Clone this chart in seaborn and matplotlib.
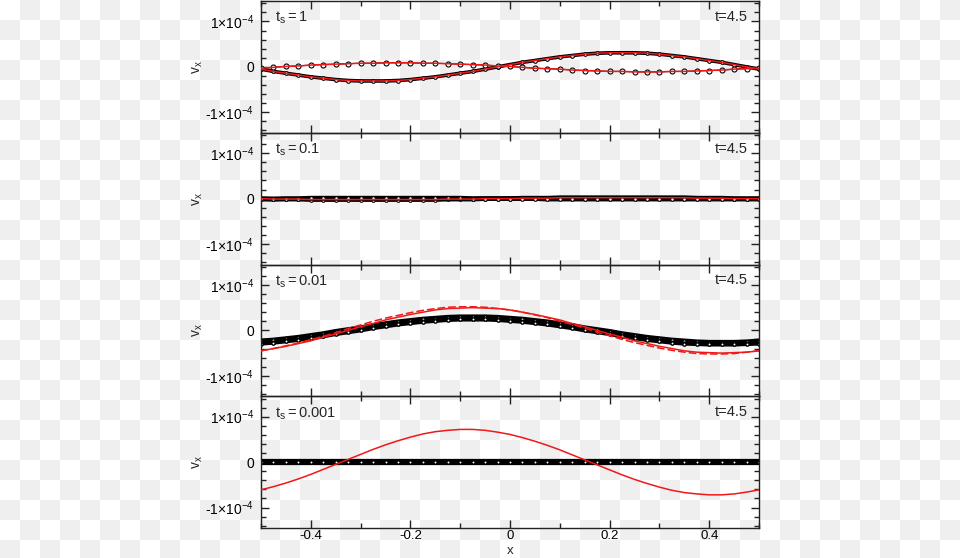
import numpy as np
import matplotlib
matplotlib.use("Agg")
import matplotlib.pyplot as plt
from matplotlib.ticker import MultipleLocator, FixedLocator
import seaborn as sns

# sample positions along x (41 cells)
x = np.linspace(-0.5, 0.5, 41)
SCALE = 1e-4  # all values below are in units of 1e-4

# panel 1, t_s = 1 : two eigen-branches, points and red curves coincide
p1_a = [-0.05, -0.10, -0.14, -0.18, -0.22, -0.25, -0.28, -0.30, -0.31, -0.31, -0.31,
        -0.30, -0.28, -0.25, -0.22, -0.18, -0.14, -0.10, -0.05, 0.00, 0.05,
        0.10, 0.14, 0.18, 0.22, 0.25, 0.28, 0.30, 0.31, 0.31, 0.31,
        0.30, 0.28, 0.25, 0.22, 0.18, 0.14, 0.10, 0.05, 0.00, -0.05]
p1_b = [-0.03, -0.01, 0.01, 0.02, 0.04, 0.05, 0.06, 0.07, 0.08, 0.08, 0.09,
        0.09, 0.09, 0.08, 0.08, 0.07, 0.06, 0.05, 0.04, 0.02, 0.01,
        -0.01, -0.03, -0.04, -0.05, -0.07, -0.08, -0.09, -0.10, -0.10, -0.11,
        -0.11, -0.11, -0.10, -0.10, -0.09, -0.08, -0.07, -0.05, -0.04, -0.03]

# panel 2, t_s = 0.1 : almost flat
p2_a = [0.00, -0.01, -0.01, -0.01, -0.02, -0.02, -0.02, -0.02, -0.02, -0.02, -0.02,
        -0.02, -0.02, -0.02, -0.02, -0.01, -0.01, -0.01, 0.00, 0.00, 0.00,
        0.01, 0.01, 0.01, 0.02, 0.02, 0.02, 0.02, 0.02, 0.02, 0.02,
        0.02, 0.02, 0.02, 0.02, 0.01, 0.01, 0.01, 0.00, 0.00, 0.00]
p2_b = [-0.01, -0.01, 0.00, 0.00, 0.01, 0.01, 0.01, 0.01, 0.01, 0.01, 0.01,
        0.01, 0.01, 0.01, 0.01, 0.01, 0.01, 0.00, 0.00, 0.00, 0.00,
        0.00, 0.00, -0.01, -0.01, -0.01, -0.01, -0.01, -0.01, -0.01, -0.01,
        -0.01, -0.01, -0.01, -0.01, -0.01, -0.01, -0.01, -0.01, -0.01, -0.01]

# panel 3, t_s = 0.01
p3_a = [-0.24, -0.22, -0.19, -0.16, -0.12, -0.08, -0.03, 0.01, 0.05, 0.10, 0.14,
        0.18, 0.21, 0.24, 0.26, 0.28, 0.29, 0.29, 0.29, 0.28, 0.26,
        0.24, 0.21, 0.18, 0.14, 0.10, 0.05, 0.01, -0.03, -0.08, -0.12,
        -0.16, -0.19, -0.22, -0.24, -0.26, -0.27, -0.27, -0.27, -0.26, -0.24]
p3_b = [-0.29, -0.27, -0.24, -0.21, -0.17, -0.13, -0.08, -0.04, 0.00, 0.05, 0.09,
        0.13, 0.16, 0.19, 0.21, 0.23, 0.24, 0.24, 0.24, 0.23, 0.21,
        0.19, 0.16, 0.13, 0.09, 0.05, 0.00, -0.04, -0.08, -0.13, -0.17,
        -0.21, -0.24, -0.27, -0.29, -0.30, -0.31, -0.31, -0.31, -0.30, -0.29]
p3_red = [-0.45, -0.40, -0.35, -0.29, -0.23, -0.15, -0.08, 0.00, 0.08, 0.15, 0.23,
          0.29, 0.35, 0.40, 0.45, 0.48, 0.49, 0.50, 0.49, 0.48, 0.45,
          0.40, 0.35, 0.29, 0.23, 0.15, 0.08, 0.00, -0.08, -0.15, -0.23,
          -0.29, -0.35, -0.40, -0.45, -0.48, -0.49, -0.50, -0.49, -0.48, -0.45]
p3_red_dash = [-0.45, -0.40, -0.34, -0.28, -0.20, -0.13, -0.05, 0.04, 0.12, 0.20, 0.27,
               0.33, 0.39, 0.44, 0.48, 0.51, 0.52, 0.52, 0.51, 0.48, 0.45,
               0.40, 0.34, 0.28, 0.20, 0.13, 0.05, -0.04, -0.12, -0.20, -0.27,
               -0.33, -0.39, -0.44, -0.48, -0.51, -0.52, -0.52, -0.51, -0.48, -0.45]

# panel 4, t_s = 0.001
p4_pts = [0.00] * 41
p4_red = [-0.61, -0.54, -0.46, -0.37, -0.27, -0.16, -0.05, 0.06, 0.17, 0.28, 0.38,
          0.47, 0.55, 0.62, 0.67, 0.70, 0.72, 0.72, 0.70, 0.66, 0.61,
          0.54, 0.46, 0.37, 0.27, 0.16, 0.05, -0.06, -0.17, -0.28, -0.38,
          -0.47, -0.55, -0.62, -0.67, -0.70, -0.72, -0.72, -0.70, -0.66, -0.61]

ts_labels = ["1", "0.1", "0.01", "0.001"]
time_label = "t=4.5"
x_ticks = [-0.4, -0.2, 0, 0.2, 0.4]
x_ticklabels = ["-0.4", "-0.2", "0", "0.2", "0.4"]
y_ticks = [-1e-4, 0, 1e-4]
y_ticklabels = [r"-1×10$^{-4}$", "0", r"1×10$^{-4}$"]

RED = "#f01818"

sns.set_style("ticks")
plt.rcParams["font.family"] = ["Liberation Sans", "DejaVu Sans"]
plt.rcParams["mathtext.fontset"] = "custom"
plt.rcParams["mathtext.rm"] = "Liberation Sans"
plt.rcParams["mathtext.it"] = "Liberation Sans"
plt.rcParams["mathtext.default"] = "regular"


def draw_points(ax, vals, band, ms=3.0, mew=0.8):
    sns.lineplot(x=x, y=np.array(vals) * SCALE, ax=ax, color="black", linewidth=band,
                 marker="o", markersize=ms, markerfacecolor="white",
                 markeredgecolor="black", markeredgewidth=mew, zorder=2)


def draw_red(ax, vals, ls="-"):
    sns.lineplot(x=x, y=np.array(vals) * SCALE, ax=ax, color=RED, linewidth=1.1,
                 linestyle=ls, zorder=3)


fig, axes = plt.subplots(4, 1, figsize=(9.6, 5.58), dpi=100, sharex=True)
fig.subplots_adjust(left=261 / 960, right=759 / 960, top=1 - 1 / 558,
                    bottom=1 - 528 / 558, hspace=0)

# transparent-looking checker background
yy, xx = np.mgrid[0:558, 0:960]
board = np.where(((xx // 20) + (yy // 20)) % 2 == 1, 239, 255).astype(np.uint8)
fig.figimage(np.dstack([board] * 3), xo=0, yo=0, origin="upper", zorder=-1)

# panel 1
draw_points(axes[0], p1_a, 2.6, ms=2.6)
draw_points(axes[0], p1_b, 0.8, ms=3.6)
draw_red(axes[0], p1_a)
draw_red(axes[0], p1_b)

# panel 2
draw_points(axes[1], p2_a, 3.4, ms=2.6)
draw_points(axes[1], p2_b, 3.4, ms=2.6)
draw_red(axes[1], p2_a)

# panel 3
draw_red(axes[2], p3_red)
draw_red(axes[2], p3_red_dash, ls=(0, (5, 2)))
draw_points(axes[2], p3_a, 4.0, ms=2.4, mew=1.0)
draw_points(axes[2], p3_b, 3.0, ms=2.4, mew=1.0)

# panel 4
draw_points(axes[3], p4_pts, 4.5, ms=2.4, mew=1.0)
draw_red(axes[3], p4_red)

for ax, ts in zip(axes, ts_labels):
    ax.set_facecolor("none")
    ax.set_xlim(-0.5, 0.5)
    ax.set_ylim(-1.45e-4, 1.45e-4)
    ax.set_xticks(x_ticks, labels=x_ticklabels)
    ax.xaxis.set_minor_locator(MultipleLocator(0.1))
    ax.yaxis.set_major_locator(FixedLocator(y_ticks))
    ax.set_yticklabels(y_ticklabels)
    ax.yaxis.set_minor_locator(MultipleLocator(0.2e-4))
    ax.tick_params(which="both", direction="in", top=True, right=True,
                   color="#222222", width=1, labelsize=10, labelcolor="black")
    ax.tick_params(which="major", length=6)
    ax.tick_params(which="minor", length=3.5)
    ax.tick_params(axis="y", pad=5)
    ax.tick_params(axis="x", pad=1.5, labelsize=9.5)
    for sp in ax.spines.values():
        sp.set_color("#222222")
        sp.set_linewidth(1.0)
    ax.set_ylabel(r"$v_x$", fontsize=10)
    ax.yaxis.set_label_coords(-0.112, 0.5)
    ax.text(0.028, 0.87, r"$t_s = $" + ts, transform=ax.transAxes,
            fontsize=10.5, va="center", ha="left")
    ax.text(0.978, 0.88, time_label, transform=ax.transAxes,
            fontsize=10.5, va="center", ha="right")

axes[-1].set_xlabel("x", fontsize=9.5, va="bottom")
axes[-1].xaxis.set_label_coords(0.5, -0.222)

fig.savefig("out.png", dpi=100)
